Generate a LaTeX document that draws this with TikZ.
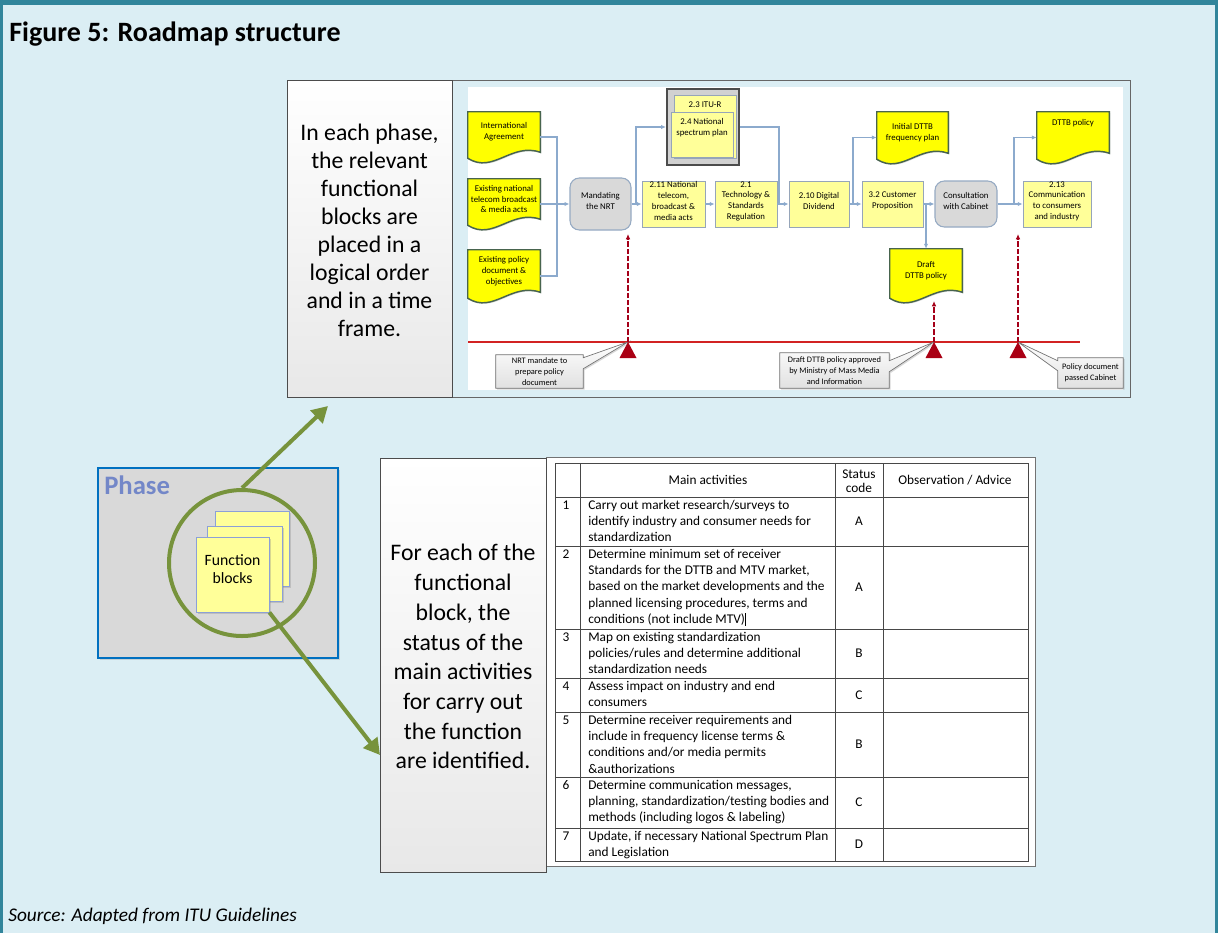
\documentclass[tikz,border=0pt]{standalone}
\usepackage{fontspec}
\setmainfont{Carlito}
\usetikzlibrary{arrows.meta,calc,fit,shadows}

\definecolor{pagebg}{RGB}{219,238,244}
\definecolor{frameteal}{RGB}{49,133,155}
\definecolor{docyellow}{RGB}{255,255,0}
\definecolor{docedge}{RGB}{72,100,78}
\definecolor{boxyellow}{RGB}{255,255,153}
\definecolor{boxedge}{RGB}{150,165,185}
\definecolor{connblue}{RGB}{140,170,205}
\definecolor{roundgray}{RGB}{217,217,217}
\definecolor{roundedge}{RGB}{150,170,195}
\definecolor{tlred}{RGB}{210,35,35}
\definecolor{milered}{RGB}{170,0,20}
\definecolor{dashred}{RGB}{165,0,25}
\definecolor{olivegreen}{RGB}{119,147,60}
\definecolor{phaseblue}{RGB}{0,112,192}
\definecolor{phasetext}{RGB}{115,135,200}
\definecolor{stackedge}{RGB}{140,160,215}
\definecolor{panelgray}{RGB}{217,217,217}

\newcommand\flowfont{\fontsize{6.6}{8.1}\selectfont}
\newcommand\callfont{\fontsize{6.3}{8.4}\selectfont}
\newcommand\tabfont{\fontsize{10}{12.2}\selectfont}
\newcommand\bigfont{\fontsize{17.8}{21}\selectfont}

% flowchart "document" symbol: flat top, wavy bottom, text in the upper part
\newcommand\docshape[2]{%
  \path[docline] (#1.north west) -- (#1.north east) -- ($(#1.south east)+(0,-10)$)
    .. controls ($(#1.south west)!0.6!(#1.south east)+(0,-20)$) and ($(#1.south west)!0.35!(#1.south east)+(0,12)$)
    .. ($(#1.south west)+(0,-4)$) -- cycle;
  \node[doctext] (#1-t) at ($(#1.center)+(0,-5)$) {#2};}

\begin{document}
\begin{tikzpicture}[x=0.75pt,y=-0.75pt,
  conn/.style={draw=connblue,line width=0.9pt},
  arr/.style={conn,-{Latex[length=3.6pt,width=3.2pt]}},
  ybox/.style={draw=boxedge,fill=boxyellow,line width=0.6pt,inner sep=0pt,align=center,font=\flowfont},
  gbox/.style={draw=roundedge,fill=roundgray,line width=0.8pt,rounded corners=7pt,inner sep=0pt,align=center,font=\flowfont},
  docfit/.style={inner sep=0pt},
  docline/.style={draw=docedge,fill=docyellow,line width=1.1pt,drop shadow={shadow xshift=0.8pt,shadow yshift=-0.8pt,opacity=0.25}},
  doctext/.style={font=\flowfont,align=center,inner sep=0pt},
  callshape/.style={draw=black!55,line width=0.5pt,top color=white,bottom color=black!12,drop shadow={shadow xshift=1pt,shadow yshift=-1pt,opacity=0.3}},
  calltext/.style={font=\callfont,align=center,inner sep=0pt},
  redline/.style={draw=tlred,line width=2pt},
  redarrow/.style={draw=dashred,line width=0.8pt,dash pattern=on 4pt off 1.5pt,-{Latex[length=4pt,width=3.5pt]}},
  greenarrow/.style={draw=olivegreen,line width=3pt,-{Triangle[length=12pt,width=13pt]}},
  notebox/.style={draw=black!70,line width=0.7pt,top color=white,bottom color=black!9,inner sep=0pt,align=center},
  stackbox/.style={draw=stackedge,fill=boxyellow,line width=0.6pt,inner sep=0pt,drop shadow={shadow xshift=1.2pt,shadow yshift=-1.2pt,opacity=0.3}},
  tabline/.style={draw=black!72,line width=0.6pt},
  cell/.style={anchor=north west,inner sep=0pt,align=left,font=\tabfont},
  numcell/.style={anchor=north,inner sep=0pt,font=\tabfont},
  code/.style={inner sep=0pt,font=\tabfont}]

% page background and frame
\useasboundingbox (0,0) rectangle (1218,933);
\fill[pagebg] (0,0) rectangle (1218,933);
\fill[frameteal] (0,0) rectangle (1218,5);
\fill[frameteal] (0,0) rectangle (3,933);
\fill[frameteal] (1215,0) rectangle (1218,933);

\node[anchor=base west,inner sep=0pt,font=\fontsize{21}{24}\selectfont\bfseries] (title) at (9,41) {Figure 5: Roadmap structure};
\node[anchor=base west,inner sep=0pt,font=\fontsize{14.5}{17}\selectfont\itshape] (source) at (8,921) {Source: Adapted from ITU Guidelines};

% ---------------- upper panel ----------------
\node[draw=black!60,line width=0.7pt,fit={(452,80)(1130,397)},inner sep=0pt] (flowframe) {};
\fill[white] (468,87) rectangle (1123,390);
\node[notebox,fit={(287,80)(452,397)},font=\bigfont] (phasenote)
  {In each phase,\\the relevant\\functional\\blocks are\\placed in a\\logical order\\and in a time\\frame.};

% inputs
\node[docfit,fit={(468,112)(540,162)}] (ia) {};
\docshape{ia}{International\\Agreement}
\node[docfit,fit={(468,179)(540,229)}] (na) {};
\docshape{na}{Existing national\\telecom broadcast\\\& media acts}
\node[docfit,fit={(468,250)(540,302)}] (pd) {};
\docshape{pd}{Existing policy\\document \&\\objectives}

\node[gbox,fit={(570,178)(631,230)}] (mand) {Mandating\\the NRT};

% ITU-R group
\node[draw=black!70,line width=1.6pt,fill=black!18,fit={(667,89)(739,165)},inner sep=0pt,drop shadow={shadow xshift=1pt,shadow yshift=-1pt,opacity=0.3}] (itu) {};
\node[ybox,fit={(674,95)(736,158)}] (itur) {};
\node[doctext] (itur-t) at (705,105) {2.3 ITU-R};
\node[ybox,fit={(671,112)(733,157)}] (nsp) {};
\node[doctext] (nsp-t) at (702,128) {2.4 National\\spectrum plan};

% main row
\node[ybox,fit={(642,181)(705,227)}] (b211) {2.11 National\\telecom,\\broadcast \&\\media acts};
\node[ybox,fit={(715,181)(777,227)}] (b21) {2.1\\Technology \&\\Standards\\Regulation};
\node[ybox,fit={(789,181)(849,227)}] (b210) {2.10 Digital\\Dividend};
\node[ybox,fit={(862,181)(923,227)}] (b32) {3.2 Customer\\Proposition};
\node[gbox,fit={(935,181)(997,227)}] (cons) {Consultation\\with Cabinet};
\node[ybox,fit={(1023,181)(1091,227)}] (b213) {2.13\\Communication\\to consumers\\and industry};

% outputs
\node[docfit,fit={(877,112)(948,163)}] (idf) {};
\docshape{idf}{Initial DTTB\\frequency plan}
\node[docfit,fit={(1037,112)(1109,163)}] (dp) {};
\docshape{dp}{DTTB policy\\[7pt]}
\node[docfit,fit={(890,249)(962,302)}] (draft) {};
\docshape{draft}{Draft\\DTTB policy}

% connectors
\coordinate (j1) at (557,204);
\draw[conn] (ia.east) -| (j1);
\draw[conn] (pd.east) -| (j1);
\draw[arr] (na.east) -- (mand.west);
\coordinate (j2) at (636,204);
\draw[arr] (mand.east) -- (b211.west);
\draw[arr] (j2) |- (itu.west);
\draw[arr] (b211.east) -- (b21.west);
\coordinate (j3) at (779,204);
\draw[conn] (itu.east) -| (j3);
\draw[arr] (b21.east) -- (b210.west);
\coordinate (j4) at (853,204);
\draw[arr] (b210.east) -- (b32.west);
\draw[arr] (j4) |- (idf.west);
\draw[arr] (b32.east) -- (cons.west);
\draw[arr] (draft.north |- b32.east) -- (draft.north);
\coordinate (j5) at (1014,204);
\draw[arr] (cons.east) -- (b213.west);
\draw[arr] (j5) |- (dp.west);

% time line with milestones
\coordinate (tl0) at (468,342);
\coordinate (tl1) at (1080,342);
\coordinate (m1) at (628,342);
\coordinate (m2) at (934,342);
\coordinate (m3) at (1018,342);
\draw[redline] (tl0) -- (tl1);

\node[inner sep=0pt,fit={(496,355)(583,388)}] (nrt) {};
\path[callshape] (nrt.north west) -- (nrt.north east) -- ($(nrt.north east)+(0,3)$) -- (m1)
  -- ($(nrt.north east)+(0,14)$) -- (nrt.south east) -- (nrt.south west) -- cycle;
\node[calltext] (nrt-t) at (nrt.center) {NRT mandate to\\prepare policy\\document};

\node[inner sep=0pt,fit={(780,353)(889,388)}] (appr) {};
\path[callshape] (appr.north west) -- (appr.north east) -- ($(appr.north east)+(0,8)$) -- (m2)
  -- ($(appr.north east)+(0,19)$) -- (appr.south east) -- (appr.south west) -- cycle;
\node[calltext] (appr-t) at (appr.center) {Draft DTTB policy approved\\by Ministry of Mass Media\\and Information};

\node[inner sep=0pt,fit={(1058,358)(1123,388)}] (pass) {};
\path[callshape] (pass.north west) -- (pass.north east) -- (pass.south east) -- (pass.south west)
  -- ($(pass.north west)+(0,13)$) -- (m3) -- ($(pass.north west)+(0,3)$) -- cycle;
\node[calltext] (pass-t) at (pass.center) {Policy document\\passed Cabinet};

\foreach \m in {m1,m2,m3}
  \fill[milered] (\m) -- ++(-8.5,16) -- ++(17,0) -- cycle;

\coordinate (a1) at (628,234);
\coordinate (a2) at (934,301);
\coordinate (a3) at (1018,234);
\draw[redarrow] (m1) -- (a1);
\draw[redarrow] (m2) -- (a2);
\draw[redarrow] (m3) -- (a3);

% ---------------- lower panel ----------------
\node[draw=phaseblue,line width=1.5pt,fill=panelgray,fit={(98,468)(338,658)},inner sep=0pt,drop shadow={shadow xshift=1.5pt,shadow yshift=-1.5pt,opacity=0.25}] (phase) {};
\node[anchor=base west,inner sep=0pt,font=\fontsize{20}{24}\selectfont\bfseries,text=phasetext] (phase-t) at (104,494) {Phase};

\node[stackbox,fit={(215,511)(289,586)}] (fb3) {};
\node[stackbox,fit={(207,526)(282,601)}] (fb2) {};
\node[stackbox,fit={(196,537)(269,612)},align=center,font=\fontsize{11.8}{13.5}\selectfont] (fb1) {Function\\blocks};
\node[circle,draw=olivegreen,line width=3pt,minimum size=109.5pt,inner sep=0pt] (lens) at (242,563) {};

\coordinate (tipA) at (328,406);
\coordinate (tipB) at (380,755);
\draw[greenarrow] (lens.north) -- (tipA);
\draw[greenarrow] (fb1.south east) -- (tipB);

\node[draw=black!55,fill=white,line width=0.6pt,fit={(546,457)(1035,866)},inner sep=0pt] (tableframe) {};
\node[notebox,fit={(380,458)(546,872)},font=\fontsize{17.8}{22.3}\selectfont] (blocknote)
  {For each of the\\functional\\block, the\\status of the\\main activities\\for carry out\\the function\\are identified.};

% activity table
\draw[tabline] (555,463) rectangle (1028,861);
\foreach \yy in {497,546,629,678,712,777,828} \draw[tabline] (555,\yy) -- (1028,\yy);
\foreach \xx in {580,835,883} \draw[tabline] (\xx,463) -- (\xx,861);

\node[code] (h1) at (708,480) {Main activities};
\node[code,align=center,font=\fontsize{10}{10.7}\selectfont] (h2) at (859,481) {Status\\code};
\node[code] (h3) at (955,480) {Observation / Advice};

\node[numcell] (n1) at (566,497.6) {\strut 1};
\node[numcell] (n2) at (566,546.6) {\strut 2};
\node[numcell] (n3) at (566,629.6) {\strut 3};
\node[numcell] (n4) at (566,678.6) {\strut 4};
\node[numcell] (n5) at (566,712.6) {\strut 5};
\node[numcell] (n6) at (566,777.6) {\strut 6};
\node[numcell] (n7) at (566,828.6) {\strut 7};

\node[cell] (t1) at (588,497.6) {\strut Carry out market research/surveys to\\identify industry and consumer needs for\\standardization};
\node[cell] (t2) at (588,546.6) {\strut Determine minimum set of receiver\\Standards for the DTTB and MTV market,\\based on the market developments and the\\planned licensing procedures, terms and\\conditions (not include MTV)\rule[-2pt]{0.6pt}{9.5pt}};
\node[cell] (t3) at (588,629.6) {\strut Map on existing standardization\\policies/rules and determine additional\\standardization needs};
\node[cell] (t4) at (588,678.6) {\strut Assess impact on industry and end\\consumers};
\node[cell] (t5) at (588,712.6) {\strut Determine receiver requirements and\\include in frequency license terms \&\\conditions and/or media permits\\\&authorizations};
\node[cell] (t6) at (588,777.6) {\strut Determine communication messages,\\planning, standardization/testing bodies and\\methods (including logos \& labeling)};
\node[cell] (t7) at (588,828.6) {\strut Update, if necessary National Spectrum Plan\\and Legislation};

\node[code] (s1) at (859,521.5) {A};
\node[code] (s2) at (859,587.5) {A};
\node[code] (s3) at (859,653.5) {B};
\node[code] (s4) at (859,695) {C};
\node[code] (s5) at (859,744.5) {B};
\node[code] (s6) at (859,802.5) {C};
\node[code] (s7) at (859,844.5) {D};

\end{tikzpicture}
\end{document}
